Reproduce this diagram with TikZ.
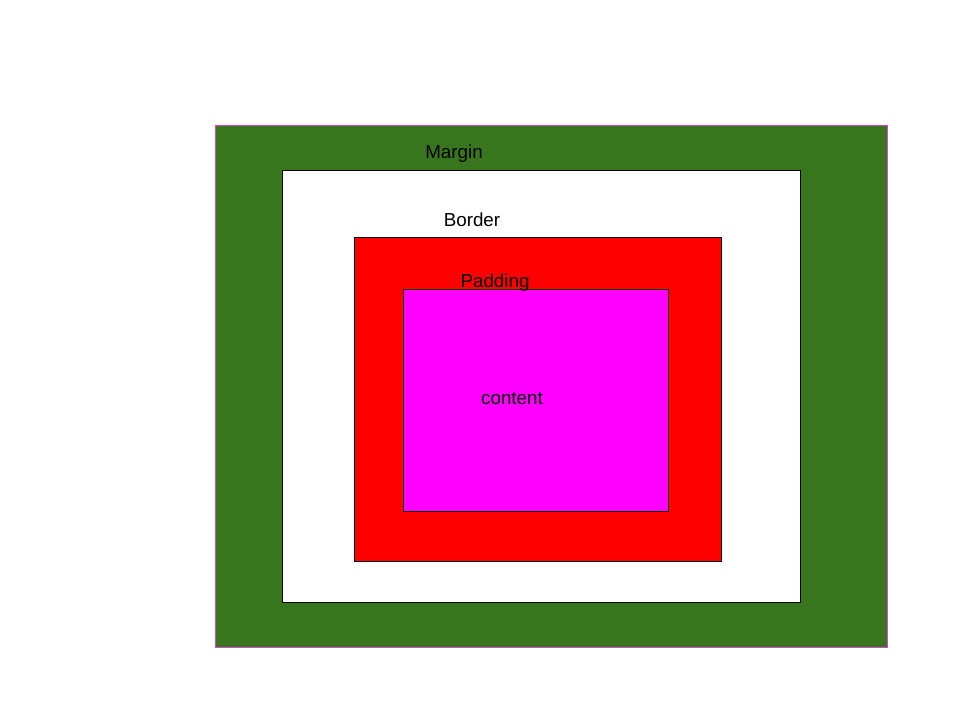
\documentclass[tikz,border=0pt]{standalone}
\usepackage{fontspec}
\setmainfont{Liberation Sans}
\usepackage{xcolor}
\definecolor{margingreen}{HTML}{38761D}
\definecolor{edgepink}{HTML}{E040E0}
\definecolor{padred}{HTML}{FF0000}
\definecolor{contentpink}{HTML}{FF00FF}

\begin{document}
\begin{tikzpicture}[
    x=0.02cm, y=-0.02cm,
    box/.style={draw=black, line width=0.45pt},
    label/.style={font=\fontsize{10.7}{12}\selectfont, text=black, inner sep=0pt},
]
\useasboundingbox (0,0) rectangle (960,720);

% nested boxes, outside in
\fill[margingreen, draw=edgepink, line width=0.4pt] (215,125) rectangle (887,647);
\draw[box, fill=white] (282,170) rectangle (800,602);
\draw[box, fill=padred] (354,237) rectangle (721,561);
\draw[box, fill=contentpink] (403,289) rectangle (668,511);

% labels
\node[label] (margin) at (454,154) {Margin};
\node[label] (border) at (472,220) {Border};
\node[label] (padding) at (495,283) {Padding};
\node[label] (content) at (512,399) {content};

\end{tikzpicture}
\end{document}
